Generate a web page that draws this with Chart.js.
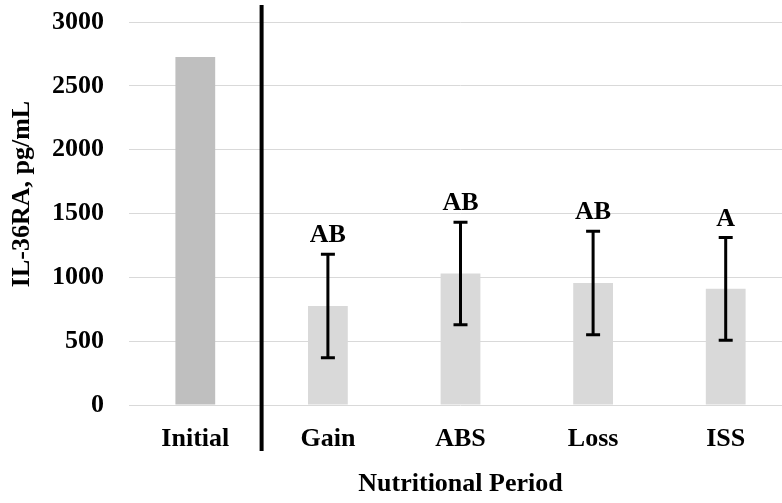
<!DOCTYPE html>
<html>
<head>
<meta charset="utf-8">
<script src="https://cdn.jsdelivr.net/npm/chart.js@4/dist/chart.umd.min.js"></script>
<style>
  html, body { margin: 0; padding: 0; background: #fff; overflow: hidden; }
  #wrap { width: 792px; height: 503px; }
</style>
</head>
<body>
<div id="wrap"><canvas id="chart" width="792" height="503"></canvas></div>
<script>
const categories = ['Initial', 'Gain', 'ABS', 'Loss', 'ISS'];
const means = [2725, 775, 1030, 955, 910];
const sds = [null, 405, 402, 405, 402];
const letters = ['', 'AB', 'AB', 'AB', 'A'];
const yTicks = [0, 500, 1000, 1500, 2000, 2500, 3000];
const yTitle = 'IL-36RA, pg/mL';

const fontFamily = "'Liberation Serif', 'Times New Roman', serif";

const errorBars = {
    id: 'errorBars',
    afterDatasetsDraw(chart) {
        const ctx = chart.ctx;
        const x = chart.scales.x, y = chart.scales.y;
        ctx.save();
        ctx.strokeStyle = '#000';
        ctx.lineWidth = 3;
        ctx.fillStyle = '#000';
        ctx.font = 'bold 26px ' + fontFamily;
        ctx.textAlign = 'center';
        ctx.textBaseline = 'alphabetic';
        means.forEach((m, i) => {
            if (sds[i] == null) return;
            const px = x.getPixelForValue(i);
            const top = y.getPixelForValue(m + sds[i]);
            const bot = y.getPixelForValue(m - sds[i]);
            ctx.beginPath();
            ctx.moveTo(px, top); ctx.lineTo(px, bot);
            ctx.moveTo(px - 7, top); ctx.lineTo(px + 7, top);
            ctx.moveTo(px - 7, bot); ctx.lineTo(px + 7, bot);
            ctx.stroke();
            ctx.fillText(letters[i], px, top - 12);
        });
        // divider between the initial value and the periods
        const dx = (x.getPixelForValue(0) + x.getPixelForValue(1)) / 2;
        ctx.lineWidth = 4;
        ctx.beginPath();
        ctx.moveTo(dx, 5);
        ctx.lineTo(dx, 451);
        ctx.stroke();
        // y axis title, sits a bit above the middle like the original
        ctx.translate(22, 194);
        ctx.rotate(-Math.PI / 2);
        ctx.textBaseline = 'middle';
        ctx.fillText(yTitle, 0, 0);
        ctx.restore();
    }
};

new Chart(document.getElementById('chart'), {
    type: 'bar',
    data: {
        labels: categories,
        datasets: [{
            data: means,
            backgroundColor: ['#bfbfbf', '#d9d9d9', '#d9d9d9', '#d9d9d9', '#d9d9d9'],
            barPercentage: 0.3,
            categoryPercentage: 1,
        }]
    },
    options: {
        responsive: false,
        animation: false,
        layout: { padding: { top: 22, left: 8, right: 0, bottom: 0 } },
        plugins: { legend: { display: false }, tooltip: { enabled: false } },
        scales: {
            y: {
                min: 0, max: 3000,
                afterBuildTicks: s => { s.ticks = yTicks.map(v => ({ value: v })); },
                afterFit: s => { s.width = 121; s.paddingTop = 0; s.paddingBottom = 0; },
                grid: { color: '#d9d9d9', lineWidth: 1, drawTicks: false },
                border: { display: false },
                ticks: {
                    color: '#000', padding: 25,
                    callback: v => String(v),
                    font: { family: fontFamily, size: 26, weight: 'bold' }
                }
            },
            x: {
                afterFit: s => { s.height = 98; },
                grid: { display: false },
                border: { display: false },
                ticks: { color: '#000', padding: 11, font: { family: fontFamily, size: 26, weight: 'bold' } },
                title: {
                    display: true, text: 'Nutritional Period', color: '#000',
                    padding: { top: 14, bottom: 3 },
                    font: { family: fontFamily, size: 26, weight: 'bold' }
                }
            }
        }
    },
    plugins: [errorBars]
});
</script>
</body>
</html>
